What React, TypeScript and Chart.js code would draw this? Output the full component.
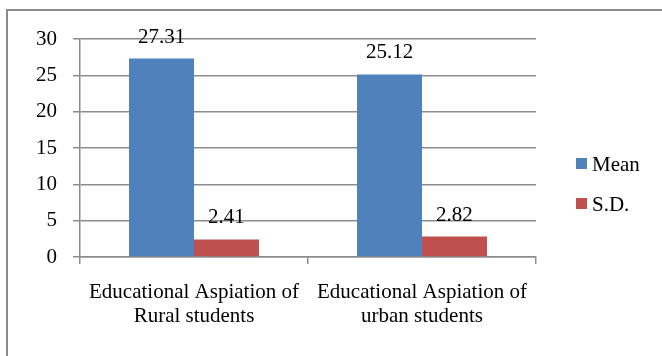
import React, { useEffect, useRef } from "react";
import { Chart, registerables } from "chart.js";

Chart.register(...registerables);

const categories: string[][] = [
  ["Educational Aspiation of", "Rural students"],
  ["Educational Aspiation of", "urban students"],
];
const meanValues = [27.31, 25.12];
const sdValues = [2.41, 2.82];
const yTicks = [0, 5, 10, 15, 20, 25, 30];

const FONT = "'Liberation Serif', 'Times New Roman', serif";
const FONT_SIZE = 21;
const GRID = "#8c8c8c";
const BLUE = "#4F81BD";
const RED = "#C0504D";

// Frame around the whole chart (left and top edges are visible)
const framePlugin = {
  id: "frame",
  beforeDraw(chart: Chart) {
    const ctx = chart.ctx;
    ctx.save();
    ctx.fillStyle = "#ffffff";
    ctx.fillRect(0, 0, chart.width, chart.height);
    ctx.strokeStyle = "#8a8a8a";
    ctx.lineWidth = 2;
    ctx.beginPath();
    ctx.moveTo(7, chart.height + 5);
    ctx.lineTo(7, 10);
    ctx.lineTo(chart.width + 5, 10);
    ctx.stroke();
    ctx.restore();
  },
};

// Value labels above each bar
const valueLabelPlugin = {
  id: "valueLabels",
  afterDatasetsDraw(chart: Chart) {
    const ctx = chart.ctx;
    ctx.save();
    ctx.font = `${FONT_SIZE}px ${FONT}`;
    ctx.fillStyle = "#000000";
    ctx.textAlign = "center";
    ctx.textBaseline = "alphabetic";
    chart.data.datasets.forEach((ds, di) => {
      const meta = chart.getDatasetMeta(di);
      meta.data.forEach((el: any, i: number) => {
        const v = ds.data[i] as number;
        ctx.fillText(v.toFixed(2), el.x, el.y - 16);
      });
    });
    ctx.restore();
  },
};

// Legend on the right side
const legendPlugin = {
  id: "sideLegend",
  afterDraw(chart: Chart) {
    const ctx = chart.ctx;
    ctx.save();
    ctx.font = `${FONT_SIZE}px ${FONT}`;
    ctx.textAlign = "left";
    ctx.textBaseline = "alphabetic";
    const x = chart.chartArea.right + 40;
    const startY = 158;
    chart.data.datasets.forEach((ds, di) => {
      const y = startY + di * 40;
      ctx.fillStyle = ds.backgroundColor as string;
      ctx.fillRect(x, y, 11, 11);
      ctx.fillStyle = "#000000";
      ctx.fillText(ds.label as string, x + 16, y + 13);
    });
    ctx.restore();
  },
};

export default function App() {
  const canvasRef = useRef<HTMLCanvasElement | null>(null);

  useEffect(() => {
    document.body.style.margin = "0";
    const canvas = canvasRef.current;
    if (!canvas) return;
    const chart = new Chart(canvas, {
      type: "bar",
      data: {
        labels: categories,
        datasets: [
          { label: "Mean", data: meanValues, backgroundColor: BLUE },
          { label: "S.D.", data: sdValues, backgroundColor: RED },
        ],
      },
      options: {
        responsive: false,
        animation: false,
        layout: { padding: { left: 0, top: 39, right: 126, bottom: 0 } },
        datasets: {
          bar: { barPercentage: 1, categoryPercentage: 0.57 },
        },
        plugins: {
          legend: { display: false },
          tooltip: { enabled: false },
        },
        scales: {
          x: {
            offset: true,
            grid: {
              offset: true,
              drawOnChartArea: false,
              drawTicks: true,
              tickLength: 7,
              color: GRID,
              lineWidth: 1.5,
            },
            border: { display: true, color: GRID, width: 1.5 },
            ticks: {
              color: "#000000",
              font: { family: FONT, size: FONT_SIZE, lineHeight: 1.15 },
              padding: 16,
              maxRotation: 0,
              autoSkip: false,
            },
            afterFit(scale: any) {
              scale.height = 356 - 257;
            },
          },
          y: {
            min: 0,
            max: 30,
            afterBuildTicks(scale: any) {
              scale.ticks = yTicks.map((v) => ({ value: v }));
            },
            grid: {
              color: GRID,
              lineWidth: 1.5,
              drawTicks: true,
              tickLength: 7,
            },
            border: { display: true, color: GRID, width: 1.5 },
            ticks: {
              color: "#000000",
              font: { family: FONT, size: FONT_SIZE },
              padding: 16,
            },
            afterFit(scale: any) {
              scale.width = 80;
            },
          },
        },
      },
      plugins: [framePlugin, valueLabelPlugin, legendPlugin],
    });
    return () => chart.destroy();
  }, []);

  return (
    <div style={{ width: 662, height: 356 }}>
      <canvas ref={canvasRef} width={662} height={356} />
    </div>
  );
}
